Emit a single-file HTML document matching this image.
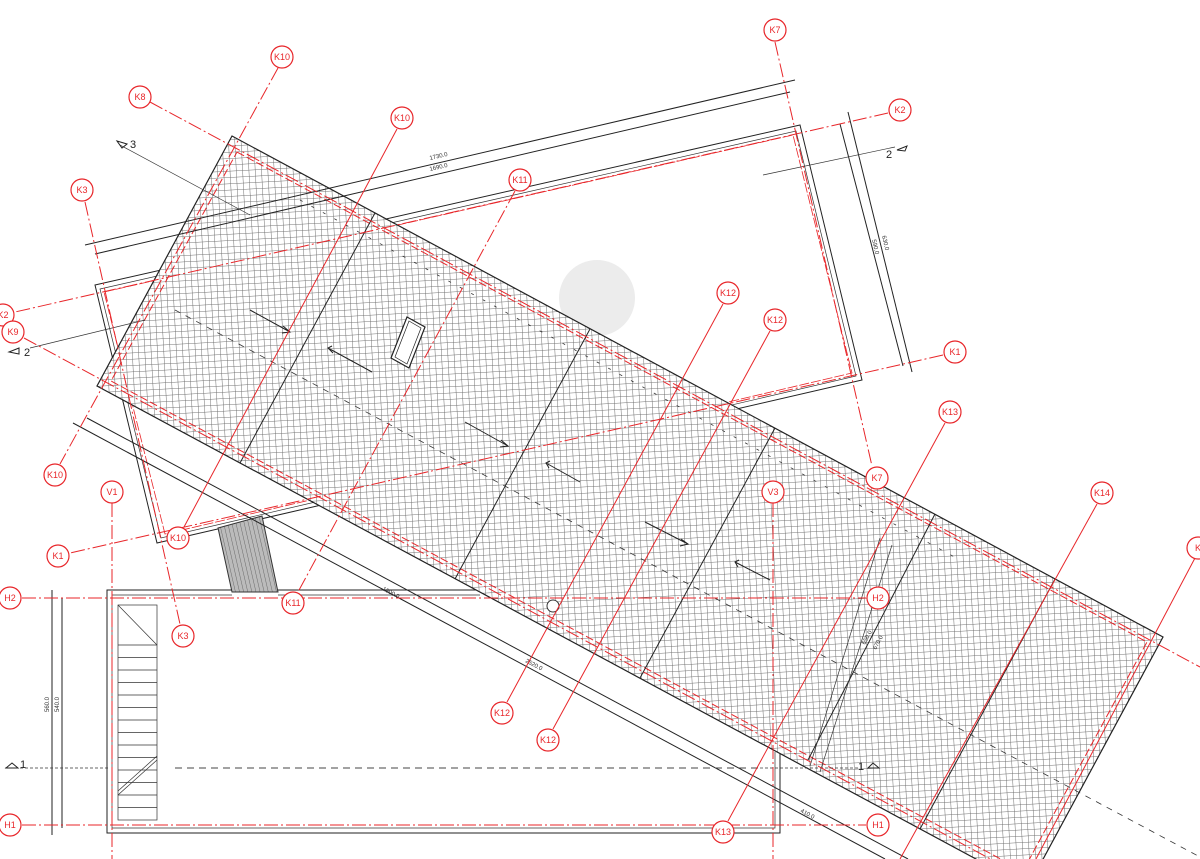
<!DOCTYPE html>
<html><head><meta charset="utf-8"><style>
html,body{margin:0;padding:0;background:#fff;width:1200px;height:859px;overflow:hidden;}
svg{display:block;}
text{font-family:"Liberation Sans",sans-serif;}
.rc{fill:#fff;stroke:#e8262a;stroke-width:1.2;}
.rt{fill:#e8262a;font-size:9px;text-anchor:middle;dominant-baseline:central;}
.rl{stroke:#e8262a;stroke-width:1;fill:none;}
.rd{stroke:#e8262a;stroke-width:1;fill:none;stroke-dasharray:14 3 2 3;}
.bk{stroke:#222;stroke-width:1;fill:none;}
.bt{stroke:#333;stroke-width:0.7;fill:none;}
.dim{font-size:6px;fill:#333;}
</style></head><body>
<svg width="1200" height="859" viewBox="0 0 1200 859" xmlns="http://www.w3.org/2000/svg">
<defs>
<pattern id="hatch" width="6.3" height="6.3" patternUnits="userSpaceOnUse" patternTransform="rotate(-3)">
<rect width="6.3" height="6.3" fill="#fff"/>
<path d="M0 0H6.3M0 0V6.3" stroke="#707070" stroke-width="1"/>
</pattern>
<pattern id="stair" width="4" height="10" patternUnits="userSpaceOnUse" patternTransform="rotate(-13)">
<rect width="4" height="10" fill="#bbb"/><path d="M0 0V10" stroke="#555" stroke-width="0.8"/>
</pattern>
</defs>

<circle cx="597" cy="298" r="38" fill="#ececec"/>

<polygon points="95,285 800,125 862,380 157,543" class="bk"/>
<polygon points="100,289 796,131 856,376 161,538" class="bt"/>
<polygon points="104,292 793,135 852,373 165,534" style="stroke:#e8262a;stroke-width:0.8;fill:none;stroke-dasharray:10 2"/>
<polygon points="218,528 262,516 278,592 232,592" fill="url(#stair)" stroke="#333" stroke-width="1"/>

<path d="M232,590 H107 V833 H780 V752" class="bk"/>
<path d="M232,595 H112 V828 H775 V752" class="bt"/>
<path d="M278,590 H480" class="bk"/>
<path d="M278,595 H480" class="bt"/>
<rect x="118" y="605" width="39" height="215" class="bt" stroke-width="1"/>
<line x1="118" y1="605" x2="157" y2="645" class="bt"/>
<g class="bt">
<line x1="118" y1="645" x2="157" y2="645"/><line x1="118" y1="657.5" x2="157" y2="657.5"/><line x1="118" y1="670" x2="157" y2="670"/><line x1="118" y1="682.5" x2="157" y2="682.5"/><line x1="118" y1="695" x2="157" y2="695"/><line x1="118" y1="707.5" x2="157" y2="707.5"/><line x1="118" y1="720" x2="157" y2="720"/><line x1="118" y1="732.5" x2="157" y2="732.5"/><line x1="118" y1="745" x2="157" y2="745"/><line x1="118" y1="757.5" x2="157" y2="757.5"/><line x1="118" y1="770" x2="157" y2="770"/><line x1="118" y1="782.5" x2="157" y2="782.5"/><line x1="118" y1="795" x2="157" y2="795"/><line x1="118" y1="807.5" x2="157" y2="807.5"/>
<line x1="118" y1="795" x2="157" y2="760"/><line x1="118" y1="791" x2="157" y2="756"/>
</g>

<line x1="73" y1="423" x2="885" y2="859" class="bk"/>
<line x1="87" y1="418" x2="908" y2="859" class="bk"/>
<text x="525" y="662" class="dim" transform="rotate(28 525 662)">2520.0</text>
<text x="382" y="590" class="dim" transform="rotate(28 382 590)">1800.0</text>
<text x="800" y="812" class="dim" transform="rotate(28 800 812)">410.0</text>

<polygon points="232,136 1163,637 1028,887 97,386" fill="url(#hatch)" stroke="#222" stroke-width="1.2"/>
<polygon points="237,152 1147,642 1023,871 111,381" style="stroke:#e8262a;stroke-width:1;fill:none;stroke-dasharray:8 3"/>
<g class="bk">
<line x1="375" y1="213" x2="240" y2="463"/>
<line x1="590" y1="329" x2="455" y2="579"/>
<line x1="775" y1="428" x2="640" y2="678"/>
<line x1="935" y1="514" x2="808" y2="760"/>
<line x1="1055" y1="579" x2="920" y2="829"/>
</g>
<g class="bt">
<line x1="880" y1="538" x2="810" y2="766"/><line x1="892" y1="545" x2="820" y2="772"/>
</g>
<text x="865" y="645" class="dim" transform="rotate(-62 865 645)">650.0</text>
<text x="876" y="650" class="dim" transform="rotate(-62 876 650)">670.0</text>
<line x1="175" y1="310" x2="1200" y2="857" style="stroke:#333;stroke-width:0.8;stroke-dasharray:6 6"/>
<line x1="300" y1="200" x2="960" y2="560" style="stroke:#333;stroke-width:0.8;stroke-dasharray:3 10"/>
<polygon points="407,317 425,327 409,368 391,358" fill="#fff" stroke="#222" stroke-width="1.2"/>
<polygon points="409,321 421,328 407,364 395,357" fill="#fff" stroke="#222" stroke-width="0.7"/>
<g class="bk">
<path d="M250 310 L290 332 M283 326 L290 332 L282 333"/>
<path d="M372 372 L328 348 M332 346 L328 348 L333 353"/>
<path d="M465 422 L508 446 M501 440 L508 446 L500 447"/>
<path d="M580 482 L546 463 M550 461 L546 463 L549 468"/>
<path d="M645 522 L688 544 M681 539 L688 544 L680 546"/>
<path d="M770 580 L735 562 M739 560 L735 562 L738 567"/>
</g>
<circle cx="553" cy="606" r="6" fill="#fff" stroke="#333"/>

<line x1="85" y1="245" x2="795" y2="80" class="bk"/>
<line x1="95" y1="254" x2="790" y2="92" class="bk"/>
<text x="430" y="160" class="dim" transform="rotate(-13 430 160)">1730.0</text>
<text x="430" y="171" class="dim" transform="rotate(-13 430 171)">1690.0</text>
<line x1="848" y1="112" x2="912" y2="372" class="bk"/>
<line x1="840" y1="124" x2="903" y2="366" class="bk"/>
<text x="872" y="240" class="dim" transform="rotate(77 872 240)">590.0</text>
<text x="882" y="236" class="dim" transform="rotate(77 882 236)">630.0</text>
<line x1="52" y1="590" x2="52" y2="835" class="bk"/>
<line x1="62" y1="598" x2="62" y2="828" class="bk"/>
<text x="49" y="712" class="dim" transform="rotate(-90 49 712)">560.0</text>
<text x="59" y="712" class="dim" transform="rotate(-90 59 712)">540.0</text>
<line x1="120" y1="145" x2="250" y2="215" class="bt"/>
<line x1="30" y1="348" x2="145" y2="320" class="bt"/>
<line x1="763" y1="175" x2="895" y2="147" class="bt"/>
<line x1="5" y1="768" x2="110" y2="768" style="stroke:#333;stroke-width:0.7;stroke-dasharray:3 2"/>
<line x1="175" y1="768" x2="760" y2="768" style="stroke:#444;stroke-width:1;stroke-dasharray:7 5"/>
<line x1="760" y1="768" x2="860" y2="768" style="stroke:#333;stroke-width:0.7;stroke-dasharray:3 2"/>
<text x="130" y="148" font-size="11" fill="#222">3</text><path d="M117 141 L127 144 L122 148Z" fill="none" stroke="#222"/>
<text x="886" y="158" font-size="11" fill="#222">2</text><path d="M897 150 L907 146 L905 151Z" fill="none" stroke="#222"/>
<text x="24" y="356" font-size="11" fill="#222">2</text><path d="M9 352 L19 348 L19 354Z" fill="none" stroke="#222"/>
<text x="20" y="768" font-size="11" fill="#222">1</text><path d="M6 768 L12 763 L18 768Z" fill="none" stroke="#222"/>
<text x="858" y="770" font-size="11" fill="#222">1</text><path d="M868 768 L873 763 L879 768Z" fill="none" stroke="#222"/>

<line x1="775" y1="42" x2="872" y2="466" class="rd"/>
<line x1="888" y1="113" x2="15" y2="312" class="rd"/>
<line x1="943" y1="355" x2="70" y2="553" class="rd"/>
<line x1="150" y1="102" x2="1200" y2="667" class="rd"/>
<line x1="24" y1="338" x2="1200" y2="972" class="rd"/>
<line x1="278" y1="68" x2="60" y2="464" class="rd"/>
<line x1="397" y1="129" x2="184" y2="527" class="rl"/>
<line x1="515" y1="191" x2="298" y2="592" class="rd"/>
<line x1="723" y1="304" x2="507" y2="702" class="rl"/>
<line x1="770" y1="331" x2="553" y2="729" class="rl"/>
<line x1="945" y1="423" x2="728" y2="821" class="rl"/>
<line x1="1097" y1="504" x2="900" y2="859" class="rl"/>
<line x1="1195" y1="558" x2="1036" y2="859" class="rl"/>
<line x1="85" y1="202" x2="180" y2="624" class="rd"/>
<line x1="112" y1="503" x2="112" y2="859" class="rd"/>
<line x1="773" y1="503" x2="773" y2="859" class="rd"/>
<line x1="22" y1="598" x2="866" y2="598" class="rd"/>
<line x1="22" y1="825" x2="866" y2="825" class="rd"/>

<g>
<circle cx="775" cy="30" r="11" class="rc"/><text x="775" y="30" class="rt">K7</text>
<circle cx="877" cy="478" r="11" class="rc"/><text x="877" y="478" class="rt">K7</text>
<circle cx="900" cy="110" r="11" class="rc"/><text x="900" y="110" class="rt">K2</text>
<circle cx="3" cy="315" r="11" class="rc"/><text x="3" y="315" class="rt">K2</text>
<circle cx="955" cy="352" r="11" class="rc"/><text x="955" y="352" class="rt">K1</text>
<circle cx="58" cy="556" r="11" class="rc"/><text x="58" y="556" class="rt">K1</text>
<circle cx="140" cy="97" r="11" class="rc"/><text x="140" y="97" class="rt">K8</text>
<circle cx="13" cy="332" r="11" class="rc"/><text x="13" y="332" class="rt">K9</text>
<circle cx="282" cy="57" r="11" class="rc"/><text x="282" y="57" class="rt">K10</text>
<circle cx="402" cy="118" r="11" class="rc"/><text x="402" y="118" class="rt">K10</text>
<circle cx="55" cy="475" r="11" class="rc"/><text x="55" y="475" class="rt">K10</text>
<circle cx="178" cy="538" r="11" class="rc"/><text x="178" y="538" class="rt">K10</text>
<circle cx="520" cy="180" r="11" class="rc"/><text x="520" y="180" class="rt">K11</text>
<circle cx="293" cy="603" r="11" class="rc"/><text x="293" y="603" class="rt">K11</text>
<circle cx="728" cy="293" r="11" class="rc"/><text x="728" y="293" class="rt">K12</text>
<circle cx="775" cy="320" r="11" class="rc"/><text x="775" y="320" class="rt">K12</text>
<circle cx="502" cy="713" r="11" class="rc"/><text x="502" y="713" class="rt">K12</text>
<circle cx="548" cy="740" r="11" class="rc"/><text x="548" y="740" class="rt">K12</text>
<circle cx="950" cy="412" r="11" class="rc"/><text x="950" y="412" class="rt">K13</text>
<circle cx="723" cy="832" r="11" class="rc"/><text x="723" y="832" class="rt">K13</text>
<circle cx="1102" cy="493" r="11" class="rc"/><text x="1102" y="493" class="rt">K14</text>
<circle cx="1198" cy="548" r="11" class="rc"/><text x="1198" y="548" class="rt">K</text>
<circle cx="82" cy="190" r="11" class="rc"/><text x="82" y="190" class="rt">K3</text>
<circle cx="183" cy="636" r="11" class="rc"/><text x="183" y="636" class="rt">K3</text>
<circle cx="112" cy="492" r="11" class="rc"/><text x="112" y="492" class="rt">V1</text>
<circle cx="773" cy="492" r="11" class="rc"/><text x="773" y="492" class="rt">V3</text>
<circle cx="10" cy="598" r="11" class="rc"/><text x="10" y="598" class="rt">H2</text>
<circle cx="878" cy="598" r="11" class="rc"/><text x="878" y="598" class="rt">H2</text>
<circle cx="10" cy="825" r="11" class="rc"/><text x="10" y="825" class="rt">H1</text>
<circle cx="878" cy="825" r="11" class="rc"/><text x="878" y="825" class="rt">H1</text>
</g>
</svg>
</body></html>
